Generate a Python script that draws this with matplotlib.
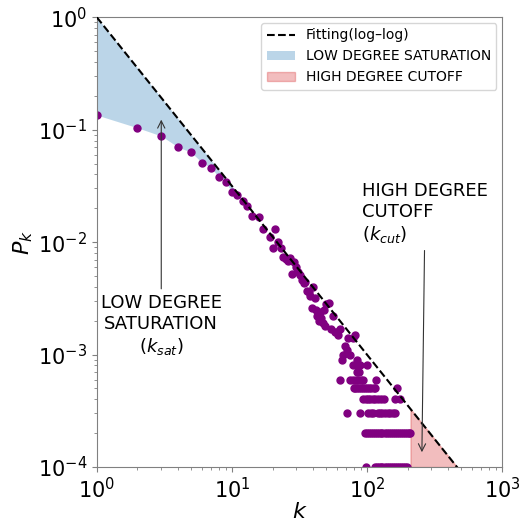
import numpy as np
import matplotlib
matplotlib.use('Agg')
import matplotlib.pyplot as plt

# Degree distribution, low-degree part (one point per degree)
k_head = [1, 2, 3, 4, 5, 6, 7, 8, 9, 10, 11, 12, 13, 14, 16, 17, 19, 20, 21, 22,
          23, 24, 25, 26, 27, 28, 29, 30, 31, 32, 33, 34, 35, 36, 37, 38, 39, 40,
          41, 42, 43, 44, 45, 46, 47, 48, 49, 50, 52, 54, 56, 58, 60, 61, 63, 65,
          66, 69, 71, 73, 75, 79, 81]
p_head = [0.135, 0.104, 0.088, 0.070, 0.063, 0.051, 0.046, 0.038, 0.034, 0.028,
          0.026, 0.023, 0.021, 0.0170, 0.0168, 0.0132, 0.0110, 0.0089, 0.0132, 0.0100,
          0.0088, 0.0074, 0.0071, 0.0068, 0.0073, 0.0052, 0.0066, 0.0060, 0.0054, 0.0051,
          0.0046, 0.0043, 0.0044, 0.0037, 0.0036, 0.0033, 0.0026, 0.0040, 0.0032, 0.0025,
          0.0022, 0.0020, 0.0024, 0.0021, 0.0019, 0.0025, 0.0018, 0.0028, 0.0029, 0.0017,
          0.0022, 0.0016, 0.0016, 0.0015, 0.0017, 0.0009, 0.0010, 0.0012, 0.0011, 0.0014,
          0.0010, 0.0014, 0.0015]

# High-degree tail: degrees sharing the same (small) probability
k_p9 = [84]
k_p8 = [79, 85, 89, 100]
k_p7 = [84, 88]
k_p6 = [63, 75, 79, 83, 86, 90, 94, 117]
k_p5 = [80, 82, 85, 88, 91, 94, 97, 100, 104, 108, 112, 115, 166]
k_p4 = [94, 98, 102, 106, 110, 115, 120, 126, 133, 161, 175]
k_p3 = [71, 89, 102, 107, 111, 120, 125, 130, 136, 142, 148, 155, 161]
k_p2 = [96, 100, 103, 107, 110, 114, 118, 122, 126, 130, 135, 140, 145, 150,
        155, 160, 166, 172, 178, 184, 191, 198, 205, 210]
k_p1 = [98, 114, 118, 122, 126, 130, 135, 140, 145, 150, 155, 160, 166, 172,
        178, 185, 192, 199]
tail_groups = [(9e-4, k_p9), (8e-4, k_p8), (7e-4, k_p7), (6e-4, k_p6), (5e-4, k_p5),
               (4e-4, k_p4), (3e-4, k_p3), (2e-4, k_p2), (1e-4, k_p1)]

# power-law fit P(k) = C k^-gamma
C = 1.0
gamma = 1.5
n_sat = 12      # points in the saturation region
k_cut = 210
p_min = 1e-4

k_all = list(k_head)
p_all = list(p_head)
for p, ks in tail_groups:
    k_all += ks
    p_all += [p] * len(ks)

fig, ax = plt.subplots(figsize=(5.29, 5.23), dpi=100)
fig.subplots_adjust(left=0.183, right=0.949, top=0.967, bottom=0.107)

kf = np.logspace(0, 3, 300)
ax.plot(kf, C * kf ** -gamma, 'k--', lw=1.5, label='Fitting(log\u2013log)', zorder=3)

ks = np.array(k_head[:n_sat], dtype=float)
ax.fill_between(ks, p_head[:n_sat], C * ks ** -gamma, color='tab:blue', alpha=0.3,
                lw=0, label='LOW DEGREE SATURATION')

k_end = (p_min / C) ** (-1 / gamma)
kk = np.linspace(k_cut, k_end, 100)
ax.fill_between(kk, p_min, C * kk ** -gamma, color='tab:red', alpha=0.3,
                label='HIGH DEGREE CUTOFF')

ax.scatter(k_all, p_all, s=25, color='purple', zorder=2)

ax.set_xscale('log')
ax.set_yscale('log')
ax.set_xlim(1, 1000)
ax.set_ylim(p_min, 1)
ax.set_xlabel('$k$', fontsize=16, labelpad=0)
ax.set_ylabel('$P_k$', fontsize=16, labelpad=2)
ax.tick_params(axis='both', which='major', labelsize=15, colors='#808080', labelcolor='black')
ax.tick_params(axis='both', which='minor', colors='#808080')
for sp in ax.spines.values():
    sp.set_color('#808080')

ax.annotate('LOW DEGREE\nSATURATION\n($k_{sat}$)', xy=(3, 0.13), xytext=(3, 1.8e-3),
            ha='center', va='center', fontsize=13,
            arrowprops=dict(arrowstyle='->', color='#333333', lw=0.8))
ax.annotate('HIGH DEGREE\nCUTOFF\n($k_{cut}$)', xy=(255, 1.28e-4), xytext=(92, 0.018),
            ha='left', va='center', fontsize=13,
            arrowprops=dict(arrowstyle='->', color='#333333', lw=0.8))

ax.legend(loc='upper right', fontsize=10, borderaxespad=0.4)

plt.savefig('out.png', dpi=100)
